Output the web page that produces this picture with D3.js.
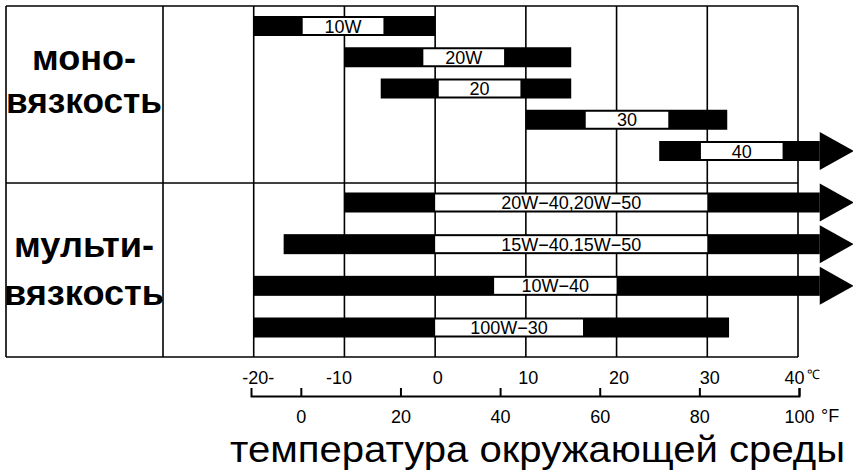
<!DOCTYPE html>
<html>
<head>
<meta charset="utf-8">
<script src="https://cdn.jsdelivr.net/npm/d3@7"></script>
<style>
  body { margin: 0; background: #fff; }
  svg { display: block; font-family: "Liberation Sans", Arial, sans-serif; }
</style>
</head>
<body>
<div id="chart"></div>
<script>
// celsius axis
var celsiusTicks = [-20, -10, 0, 10, 20, 30, 40];
var celsiusLabels = ["-20-", "-10", "0", "10", "20", "30", "40"];
// fahrenheit axis
var fahrenheitTicks = [0, 20, 40, 60, 80, 100];
var fahrenheitLabels = ["0", "20", "40", "60", "80", "100"];

// mono viscosity oils (°C)
var monoGrades = ["10W", "20W", "20", "30", "40"];
var monoFrom = [-20, -10, -6, 10, 24.7];
var monoTo = [0, 15, 15, 32.2, 42.4];
var monoArrow = [false, false, false, false, true];
var monoLabelFrom = [-14.6, -1.3, 0.4, 16.6, 29.3];
var monoLabelTo = [-5.7, 7.6, 9.4, 25.7, 38.3];

// multi viscosity oils (°C)
var multiGrades = ["20W\u221240,20W\u221250", "15W\u221240.15W\u221250", "10W\u221240", "100W\u221230"];
var multiFrom = [-10, -16.7, -20, -20];
var multiTo = [42.4, 42.4, 42.4, 32.4];
var multiArrow = [true, true, true, false];
var multiLabelFrom = [0, 0, 6.5, 0];
var multiLabelTo = [30, 30, 20, 16.3];

var chart = {
    width: 853,
    height: 471,
    left: 6,
    top: 6,
    divider: 183,
    bottom: 357,
    barHeight: 20,
    headHalf: 19,
    headLength: 34
};

var x = d3.scaleLinear().domain([-30, 40]).range([163, 798]);
var xF = d3.scaleLinear().domain([-10, 100]).range([251, 799]);
var yMono = d3.scalePoint().domain(monoGrades).range([26, 151]);
var yMulti = d3.scalePoint().domain(multiGrades).range([202.5, 327.5]);

var svg = d3.select("#chart")
    .append("svg")
    .attr("width", chart.width)
    .attr("height", chart.height);

// frame + grid
var grid = svg.append("g")
    .attr("stroke", "#000")
    .attr("stroke-width", 1.6);

grid.selectAll("line.v")
    .data(d3.range(-30, 41, 10))
    .enter()
    .append("line")
    .attr("x1", function (d) { return x(d); })
    .attr("x2", function (d) { return x(d); })
    .attr("y1", chart.top)
    .attr("y2", chart.bottom);

grid.append("line")
    .attr("x1", chart.left).attr("x2", chart.left)
    .attr("y1", chart.top).attr("y2", chart.bottom);

grid.selectAll("line.h")
    .data([chart.top, chart.divider, chart.bottom])
    .enter()
    .append("line")
    .attr("x1", chart.left)
    .attr("x2", x(40))
    .attr("y1", function (d) { return d; })
    .attr("y2", function (d) { return d; });

// build rows from the arrays
function rows(grades, from, to, arrow, lf, lt, y) {
    return grades.map(function (g, i) {
        return { name: g, from: from[i], to: to[i], arrow: arrow[i], lf: lf[i], lt: lt[i], y: y(g) };
    });
}
var allRows = rows(monoGrades, monoFrom, monoTo, monoArrow, monoLabelFrom, monoLabelTo, yMono)
    .concat(rows(multiGrades, multiFrom, multiTo, multiArrow, multiLabelFrom, multiLabelTo, yMulti));

var bar = svg.selectAll("g.bar")
    .data(allRows)
    .enter()
    .append("g")
    .attr("class", "bar");

bar.append("rect")
    .attr("x", function (d) { return x(d.from); })
    .attr("y", function (d) { return d.y - chart.barHeight / 2; })
    .attr("width", function (d) { return x(d.to) - x(d.from); })
    .attr("height", chart.barHeight)
    .attr("fill", "#000");

bar.filter(function (d) { return d.arrow; })
    .append("path")
    .attr("d", function (d) {
        var bx = x(d.to);
        return "M" + bx + "," + (d.y - chart.headHalf) +
            "L" + (bx + chart.headLength) + "," + d.y +
            "L" + bx + "," + (d.y + chart.headHalf) + "Z";
    })
    .attr("fill", "#000");

bar.append("rect")
    .attr("x", function (d) { return x(d.lf); })
    .attr("y", function (d) { return d.y - chart.barHeight / 2 + 2; })
    .attr("width", function (d) { return x(d.lt) - x(d.lf); })
    .attr("height", chart.barHeight - 4)
    .attr("fill", "#fff");

bar.append("text")
    .attr("x", function (d) { return (x(d.lf) + x(d.lt)) / 2; })
    .attr("y", function (d) { return d.y + 6.5; })
    .attr("text-anchor", "middle")
    .attr("font-size", 18)
    .attr("fill", "#000")
    .text(function (d) { return d.name; });

// section labels
var sect = [
    { t: "моно-", y: 70, w: 104 }, { t: "вязкость", y: 113, w: 156 },
    { t: "мульти-", y: 257, w: 140 }, { t: "вязкость", y: 305, w: 160 }
];
svg.selectAll("text.sect")
    .data(sect)
    .enter()
    .append("text")
    .attr("class", "sect")
    .attr("x", function (d) { return 84 - d.w / 2; })
    .attr("y", function (d) { return d.y; })
    .attr("font-size", 35)
    .attr("font-weight", "bold")
    .attr("textLength", function (d) { return d.w; })
    .attr("lengthAdjust", "spacingAndGlyphs")
    .text(function (d) { return d.t; });

// celsius labels
var cAxis = svg.append("g")
    .attr("transform", "translate(0,384)")
    .call(d3.axisBottom(x).tickValues(celsiusTicks).tickSize(0).tickPadding(0)
        .tickFormat(function (d, i) { return celsiusLabels[i]; }));
cAxis.select(".domain").remove();
cAxis.selectAll("text")
    .attr("y", 0).attr("dy", 0)
    .attr("dx", function (d) { return d === -20 ? 4 : d === -10 ? -6 : d === 40 ? -4 : 2; })
    .attr("font-size", 18)
    .attr("font-family", null)
    .attr("fill", "#000");
svg.append("text")
    .attr("x", x(40) + 9).attr("y", 379)
    .attr("font-size", 13)
    .text("℃");

// fahrenheit axis
var fAxis = svg.append("g")
    .attr("transform", "translate(0,396)")
    .call(d3.axisBottom(xF).tickValues(fahrenheitTicks).tickSize(-8).tickSizeOuter(-8).tickPadding(0)
        .tickFormat(function (d, i) { return fahrenheitLabels[i]; }));
fAxis.select(".domain").attr("stroke", "#000").attr("stroke-width", 2);
fAxis.selectAll(".tick line").attr("stroke", "#000").attr("stroke-width", 2);
fAxis.selectAll("text")
    .attr("y", 27).attr("dy", 0)
    .attr("font-size", 18)
    .attr("font-family", null)
    .attr("fill", "#000");
svg.append("text")
    .attr("x", xF(100) + 22).attr("y", 422)
    .attr("font-size", 18)
    .text("°F");

// title
svg.append("text")
    .attr("x", 230)
    .attr("y", 462)
    .attr("font-size", 36)
    .attr("textLength", 615)
    .attr("lengthAdjust", "spacingAndGlyphs")
    .text("температура окружающей среды");
</script>
</body>
</html>
